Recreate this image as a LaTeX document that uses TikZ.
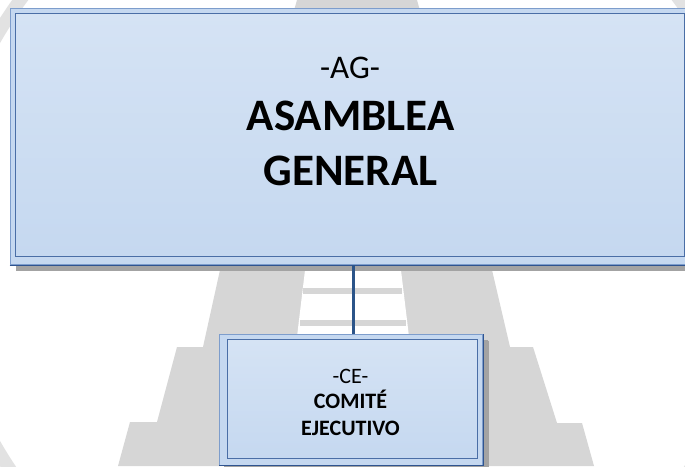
\documentclass[tikz,border=0pt]{standalone}
\usepackage{fontspec}
\setmainfont{Carlito}
\usetikzlibrary{shadows}
\definecolor{wm}{HTML}{D6D6D6}
\definecolor{wmring}{HTML}{E2E2E2}
\definecolor{boxtop}{HTML}{D5E3F4}
\definecolor{boxbot}{HTML}{C5D8F0}
\definecolor{edgelight}{HTML}{7D9DCC}
\definecolor{edgeinner}{HTML}{4A6EA6}
\definecolor{edgedark}{HTML}{2F5490}
\definecolor{connc}{HTML}{2B5489}
\definecolor{shadowc}{HTML}{A3A3A3}
\tikzset{
  outerbox/.style={draw=edgelight, line width=1.1pt, fill=boxbot, rectangle, inner sep=0pt, anchor=north west,
    drop shadow={shadow xshift=6pt, shadow yshift=-6pt, fill=shadowc, opacity=1}},
  innerbox/.style={draw=edgeinner, line width=1.1pt, top color=boxtop, bottom color=boxbot, rectangle, inner sep=0pt, anchor=north west},
  darkedge/.style={draw=edgedark, line width=1.2pt},
  conn/.style={draw=connc, line width=3pt},
  txt/.style={anchor=base, inner sep=0pt, text=black}
}
\begin{document}
\begin{tikzpicture}[x=1pt,y=-1pt]
\clip (0,0) rectangle (685,466);
\fill[white] (0,0) rectangle (685,466);
% watermark
\draw[wmring, line width=13pt] (350,242) circle (409);
\fill[wm] (297,0) -- (417,0) -- (492,270) -- (510,347) -- (533,347) -- (557,423) -- (582,423) -- (594,466)
  -- (118,466) -- (130,422) -- (157,422) -- (177,347) -- (203,347) -- (220,270) -- cycle;
\fill[white] (306,262) -- (400,262) -- (410,345) -- (296,345) -- cycle;
\fill[wm] (303,288) rectangle (402,294);
\fill[wm] (300,320) rectangle (406,326);
% top box
\node[outerbox, minimum width=686pt, minimum height=256.5pt] (agouter) at (9.5,7.5) {};
\node[innerbox, minimum width=668.7pt, minimum height=243.3pt] (aginner) at (15.3,12.7) {};
\draw[darkedge] (aginner.north east) -- (aginner.south east);
\draw[darkedge] (agouter.south west) -- (agouter.south east);
% bottom box
\node[outerbox, minimum width=263.5pt, minimum height=130.5pt, drop shadow={shadow xshift=5pt, shadow yshift=-5pt, fill=shadowc, opacity=1}] (ceouter) at (218.5,334) {};
\node[innerbox, minimum width=249.8pt, minimum height=119pt] (ceinner) at (226.7,339.3) {};
\draw[darkedge] (ceouter.north east) -- (ceouter.south east) -- (ceouter.south west);
% connector
\draw[conn] (agouter.south) -- (agouter.south |- ceouter.north);
% texts
\node[txt, font=\fontsize{33}{38}\selectfont] (agabbr) at (350,78) {-AG-};
\node[txt, font=\fontsize{45}{54}\selectfont\bfseries] (agname1) at (350.5,130) {ASAMBLEA};
\node[txt, font=\fontsize{45}{54}\selectfont\bfseries] (agname2) at (350.5,185) {GENERAL};
\node[txt, font=\fontsize{22}{26}\selectfont] (ceabbr) at (350.5,383) {-CE-};
\node[txt, font=\fontsize{22}{26}\selectfont\bfseries] (cename1) at (350.5,408) {COMITÉ};
\node[txt, font=\fontsize{22}{26}\selectfont\bfseries] (cename2) at (350.5,435) {EJECUTIVO};
\end{tikzpicture}
\end{document}
